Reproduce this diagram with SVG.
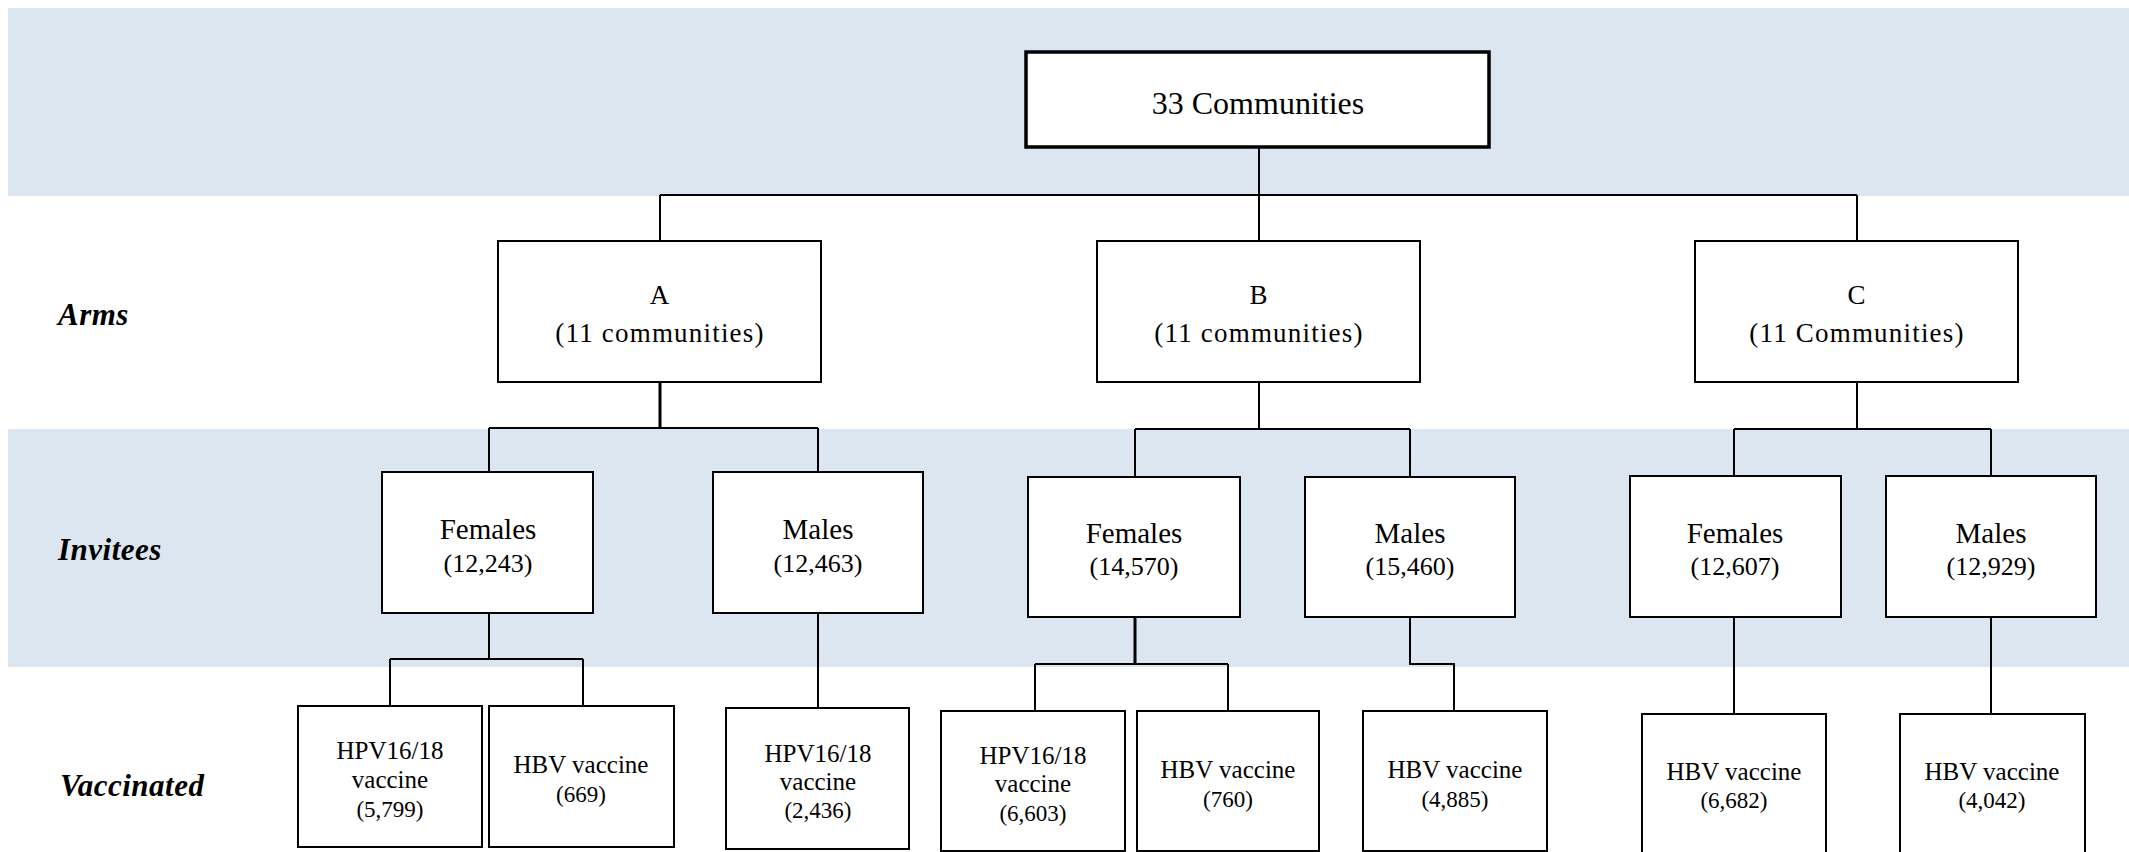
<svg xmlns="http://www.w3.org/2000/svg" width="2129" height="852" viewBox="0 0 2129 852" font-family="Liberation Serif, Times New Roman, DejaVu Serif, serif">
<style>
.band{fill:#dce6f1}
.box{fill:#fff;stroke:#000;stroke-width:2}
.root{fill:#fff;stroke:#000;stroke-width:3.5}
.t{text-anchor:middle}
.lbl{font-weight:bold;font-style:italic;font-size:31px;letter-spacing:0.5px}
.t32{font-size:32px}
.arm{font-size:27px;letter-spacing:1.2px}
.inv{font-size:29px}
.invn{font-size:26px}
.vac{font-size:25px}
.vacn{font-size:23px}
.c{fill:none;stroke:#000;stroke-width:2}
.ct{fill:none;stroke:#000;stroke-width:3}
</style>
<rect width="2129" height="852" fill="#fff"/>
<g id="bands">
<rect class="band" x="8" y="8" width="2121" height="188"/>
<rect class="band" x="8" y="429" width="2121" height="238"/>
</g>
<g id="tier-labels" font-family="Liberation Serif, serif">
<text class="lbl" x="58" y="325">Arms</text>
<text class="lbl" x="58" y="560">Invitees</text>
<text class="lbl" x="60" y="796">Vaccinated</text>
</g>
<g id="connectors">
<path class="c" d="M1259 147V195M660 195H1857M660 195V241M1259 195V241M1857 195V241"/>
<path class="ct" d="M660 382V428"/>
<path class="c" d="M489 428H818M489 428V472M818 428V472"/>
<path class="c" d="M1259 382V429M1135 429H1410M1135 429V477M1410 429V477"/>
<path class="c" d="M1857 382V429M1734 429H1991M1734 429V476M1991 429V476"/>
<path class="c" d="M489 613V659M390 659H583M390 659V706M583 659V706"/>
<path class="c" d="M818 613V708"/>
<path class="ct" d="M1135 617V664"/>
<path class="c" d="M1035 664H1228M1035 664V711M1228 664V711"/>
<path class="c" d="M1410 617V664H1454V711"/>
<path class="c" d="M1734 617V714M1991 617V714"/>
</g>
<g id="root" font-family="Liberation Serif, serif">
<rect class="root" x="1026" y="52" width="463" height="95"/>
<text class="t t32" x="1258" y="114">33 Communities</text>
</g>
<g id="armA" font-family="Liberation Serif, serif">
<rect class="box" x="498" y="241" width="323" height="141"/>
<text class="t arm" x="660" y="304">A</text>
<text class="t arm" x="660" y="342">(11 communities)</text>
</g>
<g id="armB" font-family="Liberation Serif, serif">
<rect class="box" x="1097" y="241" width="323" height="141"/>
<text class="t arm" x="1259" y="304">B</text>
<text class="t arm" x="1259" y="342">(11 communities)</text>
</g>
<g id="armC" font-family="Liberation Serif, serif">
<rect class="box" x="1695" y="241" width="323" height="141"/>
<text class="t arm" x="1857" y="304">C</text>
<text class="t arm" x="1857" y="342">(11 Communities)</text>
</g>
<g id="femalesA" font-family="Liberation Serif, serif">
<rect class="box" x="382" y="472" width="211" height="141"/>
<text class="t inv" x="488" y="539">Females</text>
<text class="t invn" x="488" y="572">(12,243)</text>
</g>
<g id="malesA" font-family="Liberation Serif, serif">
<rect class="box" x="713" y="472" width="210" height="141"/>
<text class="t inv" x="818" y="539">Males</text>
<text class="t invn" x="818" y="572">(12,463)</text>
</g>
<g id="femalesB" font-family="Liberation Serif, serif">
<rect class="box" x="1028" y="477" width="212" height="140"/>
<text class="t inv" x="1134" y="543">Females</text>
<text class="t invn" x="1134" y="575">(14,570)</text>
</g>
<g id="malesB" font-family="Liberation Serif, serif">
<rect class="box" x="1305" y="477" width="210" height="140"/>
<text class="t inv" x="1410" y="543">Males</text>
<text class="t invn" x="1410" y="575">(15,460)</text>
</g>
<g id="femalesC" font-family="Liberation Serif, serif">
<rect class="box" x="1630" y="476" width="211" height="141"/>
<text class="t inv" x="1735" y="543">Females</text>
<text class="t invn" x="1735" y="575">(12,607)</text>
</g>
<g id="malesC" font-family="Liberation Serif, serif">
<rect class="box" x="1886" y="476" width="210" height="141"/>
<text class="t inv" x="1991" y="543">Males</text>
<text class="t invn" x="1991" y="575">(12,929)</text>
</g>
<g id="hpvA" font-family="Liberation Serif, serif">
<rect class="box" x="298" y="706" width="184" height="141"/>
<text class="t vac" x="390" y="759">HPV16/18</text>
<text class="t vac" x="390" y="788">vaccine</text>
<text class="t vacn" x="390" y="817">(5,799)</text>
</g>
<g id="hbvA" font-family="Liberation Serif, serif">
<rect class="box" x="489" y="706" width="185" height="141"/>
<text class="t vac" x="581" y="773">HBV vaccine</text>
<text class="t vacn" x="581" y="802">(669)</text>
</g>
<g id="hpvAm" font-family="Liberation Serif, serif">
<rect class="box" x="726" y="708" width="183" height="141"/>
<text class="t vac" x="818" y="762">HPV16/18</text>
<text class="t vac" x="818" y="790">vaccine</text>
<text class="t vacn" x="818" y="818">(2,436)</text>
</g>
<g id="hpvB" font-family="Liberation Serif, serif">
<rect class="box" x="941" y="711" width="184" height="140"/>
<text class="t vac" x="1033" y="764">HPV16/18</text>
<text class="t vac" x="1033" y="792">vaccine</text>
<text class="t vacn" x="1033" y="821">(6,603)</text>
</g>
<g id="hbvB" font-family="Liberation Serif, serif">
<rect class="box" x="1137" y="711" width="182" height="140"/>
<text class="t vac" x="1228" y="778">HBV vaccine</text>
<text class="t vacn" x="1228" y="807">(760)</text>
</g>
<g id="hbvBm" font-family="Liberation Serif, serif">
<rect class="box" x="1363" y="711" width="184" height="140"/>
<text class="t vac" x="1455" y="778">HBV vaccine</text>
<text class="t vacn" x="1455" y="807">(4,885)</text>
</g>
<g id="hbvCf" font-family="Liberation Serif, serif">
<rect class="box" x="1642" y="714" width="184" height="150"/>
<text class="t vac" x="1734" y="780">HBV vaccine</text>
<text class="t vacn" x="1734" y="808">(6,682)</text>
</g>
<g id="hbvCm" font-family="Liberation Serif, serif">
<rect class="box" x="1900" y="714" width="185" height="150"/>
<text class="t vac" x="1992" y="780">HBV vaccine</text>
<text class="t vacn" x="1992" y="808">(4,042)</text>
</g>
</svg>
